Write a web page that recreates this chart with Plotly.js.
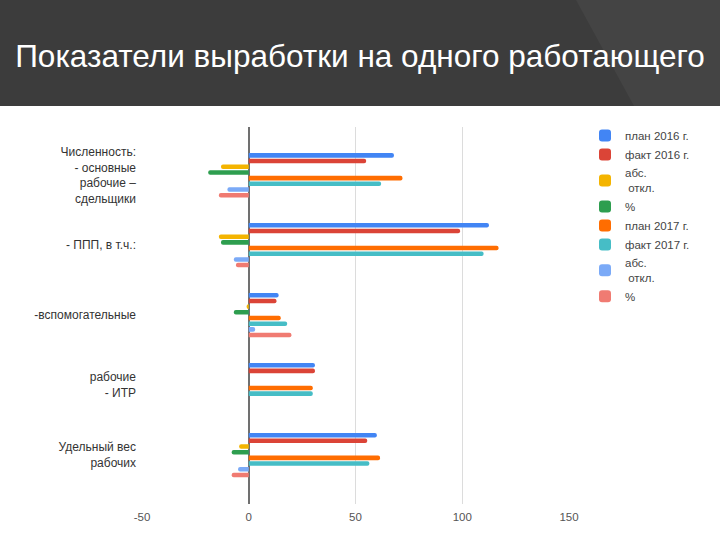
<!DOCTYPE html>
<html>
<head>
<meta charset="utf-8">
<script src="https://cdn.plot.ly/plotly-3.0.1.min.js"></script>
<style>
  html, body { margin: 0; padding: 0; background: #fff; }
  #chart { width: 720px; height: 540px; }
</style>
</head>
<body>
<div id="chart"></div>
<script>
// categories, top to bottom
const categories = [
  "Численность:<br>- основные<br>рабочие –<br>сдельщики",
  "- ППП, в т.ч.:",
  "-вспомогательные",
  "рабочие<br>- ИТР",
  "Удельный вес<br>рабочих",
];

const seriesNames = [
  "план 2016 г.",
  "факт 2016 г.",
  "абс.<br>\u00a0откл.",
  "%",
  "план 2017 г.",
  "факт 2017 г.",
  "абс.<br>\u00a0откл.",
  "%",
];

const plan2016 = [68, 112.5, 14, 31, 60];
const fact2016 = [55, 99, 13, 31, 55.5];
const abs2016 = [-13, -14, -1, 0, -4.5];
const pct2016 = [-19, -13, -7, 0, -8];
const plan2017 = [72, 117, 15, 30, 61.5];
const fact2017 = [62, 110, 18, 30, 56.5];
const abs2017 = [-10, -7, 3, 0, -5];
const pct2017 = [-14, -6, 20, 0, -8];

const xTicks = [-50, 0, 50, 100, 150];

const colors = [
  "#4285f4", "#db4437", "#f4b400", "#2e9e4f",
  "#ff6d01", "#46bdc6", "#7baaf7", "#f07b72",
];

const allSeries = [plan2016, fact2016, abs2016, pct2016, plan2017, fact2017, abs2017, pct2017];

// page geometry (px), used to place the header outside the plot area
const W = 720, H = 540, L = 142, R = 151, T = 127, B = 36;
const pw = W - L - R, ph = H - T - B;
const fx = (px) => (px - L) / pw;
const fy = (py) => (H - B - py) / ph;

const traces = allSeries.map((vals, i) => ({
  type: "bar",
  orientation: "h",
  name: seriesNames[i],
  x: vals,
  y: categories.map((c, k) => k),
  marker: { color: colors[i], cornerradius: 2 },
  hoverinfo: "x+name",
}));

const layout = {
  width: W,
  height: H,
  margin: { l: L, r: R, t: T, b: B },
  paper_bgcolor: "#ffffff",
  plot_bgcolor: "#ffffff",
  font: { family: "Liberation Sans, Arial, sans-serif", size: 11, color: "#444" },
  barmode: "group",
  bargap: 0.35,
  bargroupgap: 0.2,
  title: {
    text: "Показатели выработки на одного работающего",
    font: { family: "Liberation Sans, Arial, sans-serif", size: 31.5, color: "#ffffff" },
    xref: "container",
    yref: "container",
    x: 0.5,
    xanchor: "center",
    y: 1 - 56 / H,
    yanchor: "middle",
  },
  xaxis: {
    range: [-50, 150],
    tickvals: xTicks,
    ticktext: xTicks.map(String),
    showgrid: true,
    gridcolor: "#dcdcdc",
    gridwidth: 1,
    zeroline: true,
    zerolinecolor: "#707070",
    zerolinewidth: 1.5,
    showline: false,
    ticks: "",
    ticklabelstandoff: 4,
    tickfont: { size: 11.5, color: "#555555" },
    fixedrange: true,
  },
  yaxis: {
    tickvals: categories.map((c, k) => k),
    ticktext: categories,
    range: [4.7, -0.69],
    showgrid: false,
    zeroline: false,
    showline: false,
    ticks: "",
    ticklabelstandoff: 5,
    tickfont: { size: 12, color: "#333333" },
    fixedrange: true,
  },
  legend: {
    xref: "container",
    yref: "container",
    x: 585 / W,
    y: 1 - 121 / H,
    xanchor: "left",
    yanchor: "top",
    traceorder: "normal",
    font: { size: 11.5, color: "#444" },
    bgcolor: "rgba(0,0,0,0)",
  },
  shapes: [
    {
      type: "rect",
      xref: "paper",
      yref: "paper",
      x0: fx(0), x1: fx(W),
      y0: fy(106), y1: fy(0),
      fillcolor: "#3c3c3c",
      line: { width: 0 },
    },
    {
      type: "path",
      xref: "paper",
      yref: "paper",
      path: `M${fx(576)},${fy(0)} L${fx(W)},${fy(0)} L${fx(W)},${fy(106)} L${fx(634)},${fy(106)} Z`,
      fillcolor: "#444444",
      line: { width: 0 },
    },
  ],
};

Plotly.newPlot("chart", traces, layout, { displayModeBar: false, staticPlot: true });
</script>
</body>
</html>
